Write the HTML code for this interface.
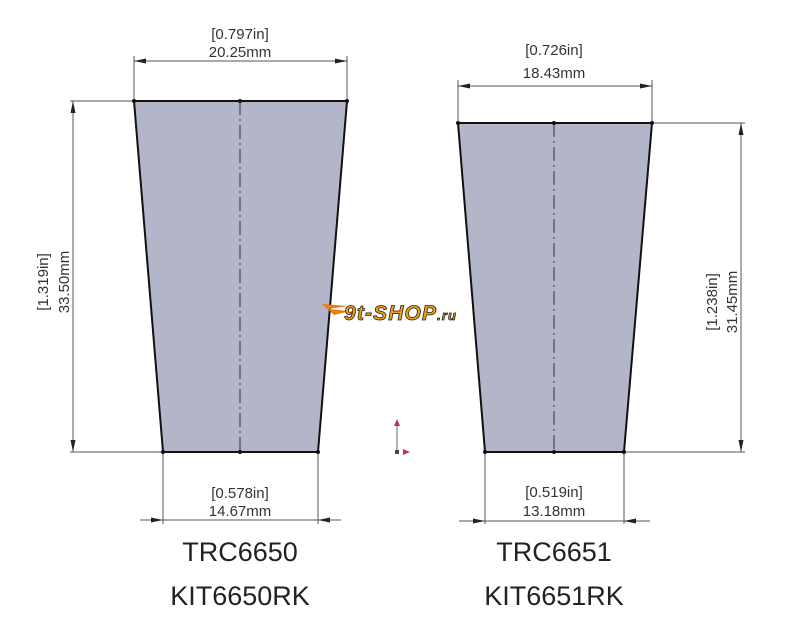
<!DOCTYPE html>
<html><head><meta charset="utf-8"><style>
html,body{margin:0;padding:0;background:#fff;}
svg{display:block;}
text{font-family:"Liberation Sans",sans-serif;fill:#333;}
</style></head><body>
<svg width="800" height="622" viewBox="0 0 800 622" xmlns="http://www.w3.org/2000/svg">
<g stroke="#555" stroke-width="1" fill="none">
<line x1="134" y1="100" x2="134" y2="56"/><line x1="347" y1="100" x2="347" y2="56"/>
<line x1="134" y1="61" x2="347" y2="61"/>
<line x1="70" y1="101" x2="132" y2="101"/><line x1="70" y1="452" x2="161" y2="452"/>
<line x1="73" y1="101" x2="73" y2="452"/>
<line x1="163" y1="454" x2="163" y2="524"/><line x1="318" y1="454" x2="318" y2="524"/>
<line x1="140" y1="520" x2="341" y2="520"/>
<line x1="458" y1="121" x2="458" y2="80"/><line x1="652" y1="121" x2="652" y2="80"/>
<line x1="458" y1="86" x2="652" y2="86"/>
<line x1="654" y1="123" x2="745" y2="123"/><line x1="626" y1="452" x2="745" y2="452"/>
<line x1="741" y1="123" x2="741" y2="452"/>
<line x1="485" y1="454" x2="485" y2="524"/><line x1="624" y1="454" x2="624" y2="524"/>
<line x1="459" y1="521" x2="650" y2="521"/>
</g>
<g fill="#222">
<path d="M134,61 l12,-2.5 v5z M347,61 l-12,-2.5 v5z"/>
<path d="M73,101 l-2.5,12 h5z M73,452 l-2.5,-12 h5z"/>
<path d="M163,520 l-12,-2.5 v5z M318,520 l12,-2.5 v5z"/>
<path d="M458,86 l12,-2.5 v5z M652,86 l-12,-2.5 v5z"/>
<path d="M741,123 l-2.5,12 h5z M741,452 l-2.5,-12 h5z"/>
<path d="M485,521 l-12,-2.5 v5z M624,521 l12,-2.5 v5z"/>
</g>
<polygon points="134,101 347,101 318,452 163,452" fill="#b3b5c8" stroke="#111" stroke-width="2"/>
<polygon points="458,123 652,123 624,452 485,452" fill="#b3b5c8" stroke="#111" stroke-width="2"/>
<line x1="240" y1="101" x2="240" y2="452" stroke="#333" stroke-width="1" stroke-dasharray="14,4,2,4"/>
<line x1="554" y1="123" x2="554" y2="452" stroke="#333" stroke-width="1" stroke-dasharray="14,4,2,4"/>
<g fill="#111">
<circle cx="134" cy="101" r="2"/><circle cx="240" cy="101" r="2"/><circle cx="347" cy="101" r="2"/>
<circle cx="163" cy="452" r="2"/><circle cx="240" cy="452" r="2"/><circle cx="318" cy="452" r="2"/>
<circle cx="458" cy="123" r="2"/><circle cx="554" cy="123" r="2"/><circle cx="652" cy="123" r="2"/>
<circle cx="485" cy="452" r="2"/><circle cx="554" cy="452" r="2"/><circle cx="624" cy="452" r="2"/>
</g>
<g font-size="15" text-anchor="middle">
<text x="240" y="39">[0.797in]</text><text x="240" y="57">20.25mm</text>
<text x="554" y="55">[0.726in]</text><text x="554" y="78">18.43mm</text>
<text x="240" y="498">[0.578in]</text><text x="240" y="516">14.67mm</text>
<text x="554" y="497">[0.519in]</text><text x="554" y="516">13.18mm</text>
<text transform="translate(48,282) rotate(-90)">[1.319in]</text>
<text transform="translate(69,282) rotate(-90)">33.50mm</text>
<text transform="translate(717,302) rotate(-90)">[1.238in]</text>
<text transform="translate(737,302) rotate(-90)">31.45mm</text>
</g>
<g font-size="27" text-anchor="middle">
<text x="240" y="561" style="fill:#222">TRC6650</text><text x="240" y="605" style="fill:#222">KIT6650RK</text>
<text x="554" y="561" style="fill:#222">TRC6651</text><text x="554" y="605" style="fill:#222">KIT6651RK</text>
</g>
<g transform="translate(322,302)">
<path d="M0,2 l26,2 l-20,3 l22,2 l-16,4z" fill="#f07a10"/>
<text x="22" y="18" font-size="21" font-weight="bold" font-style="italic" textLength="112" style="fill:#f5a010;stroke:#222;stroke-width:0.8">9t-SHOP<tspan font-size="13">.ru</tspan></text>
</g>
<line x1="397" y1="422" x2="397" y2="452" stroke="#999" stroke-width="1.5"/>
<path d="M397,419 l-3,7 h6z" fill="#c03050"/>
<path d="M410,452 l-7,-3 v6z" fill="#c03050"/>
<rect x="395" y="450" width="4" height="4" fill="#444"/>
</svg>
</body></html>
